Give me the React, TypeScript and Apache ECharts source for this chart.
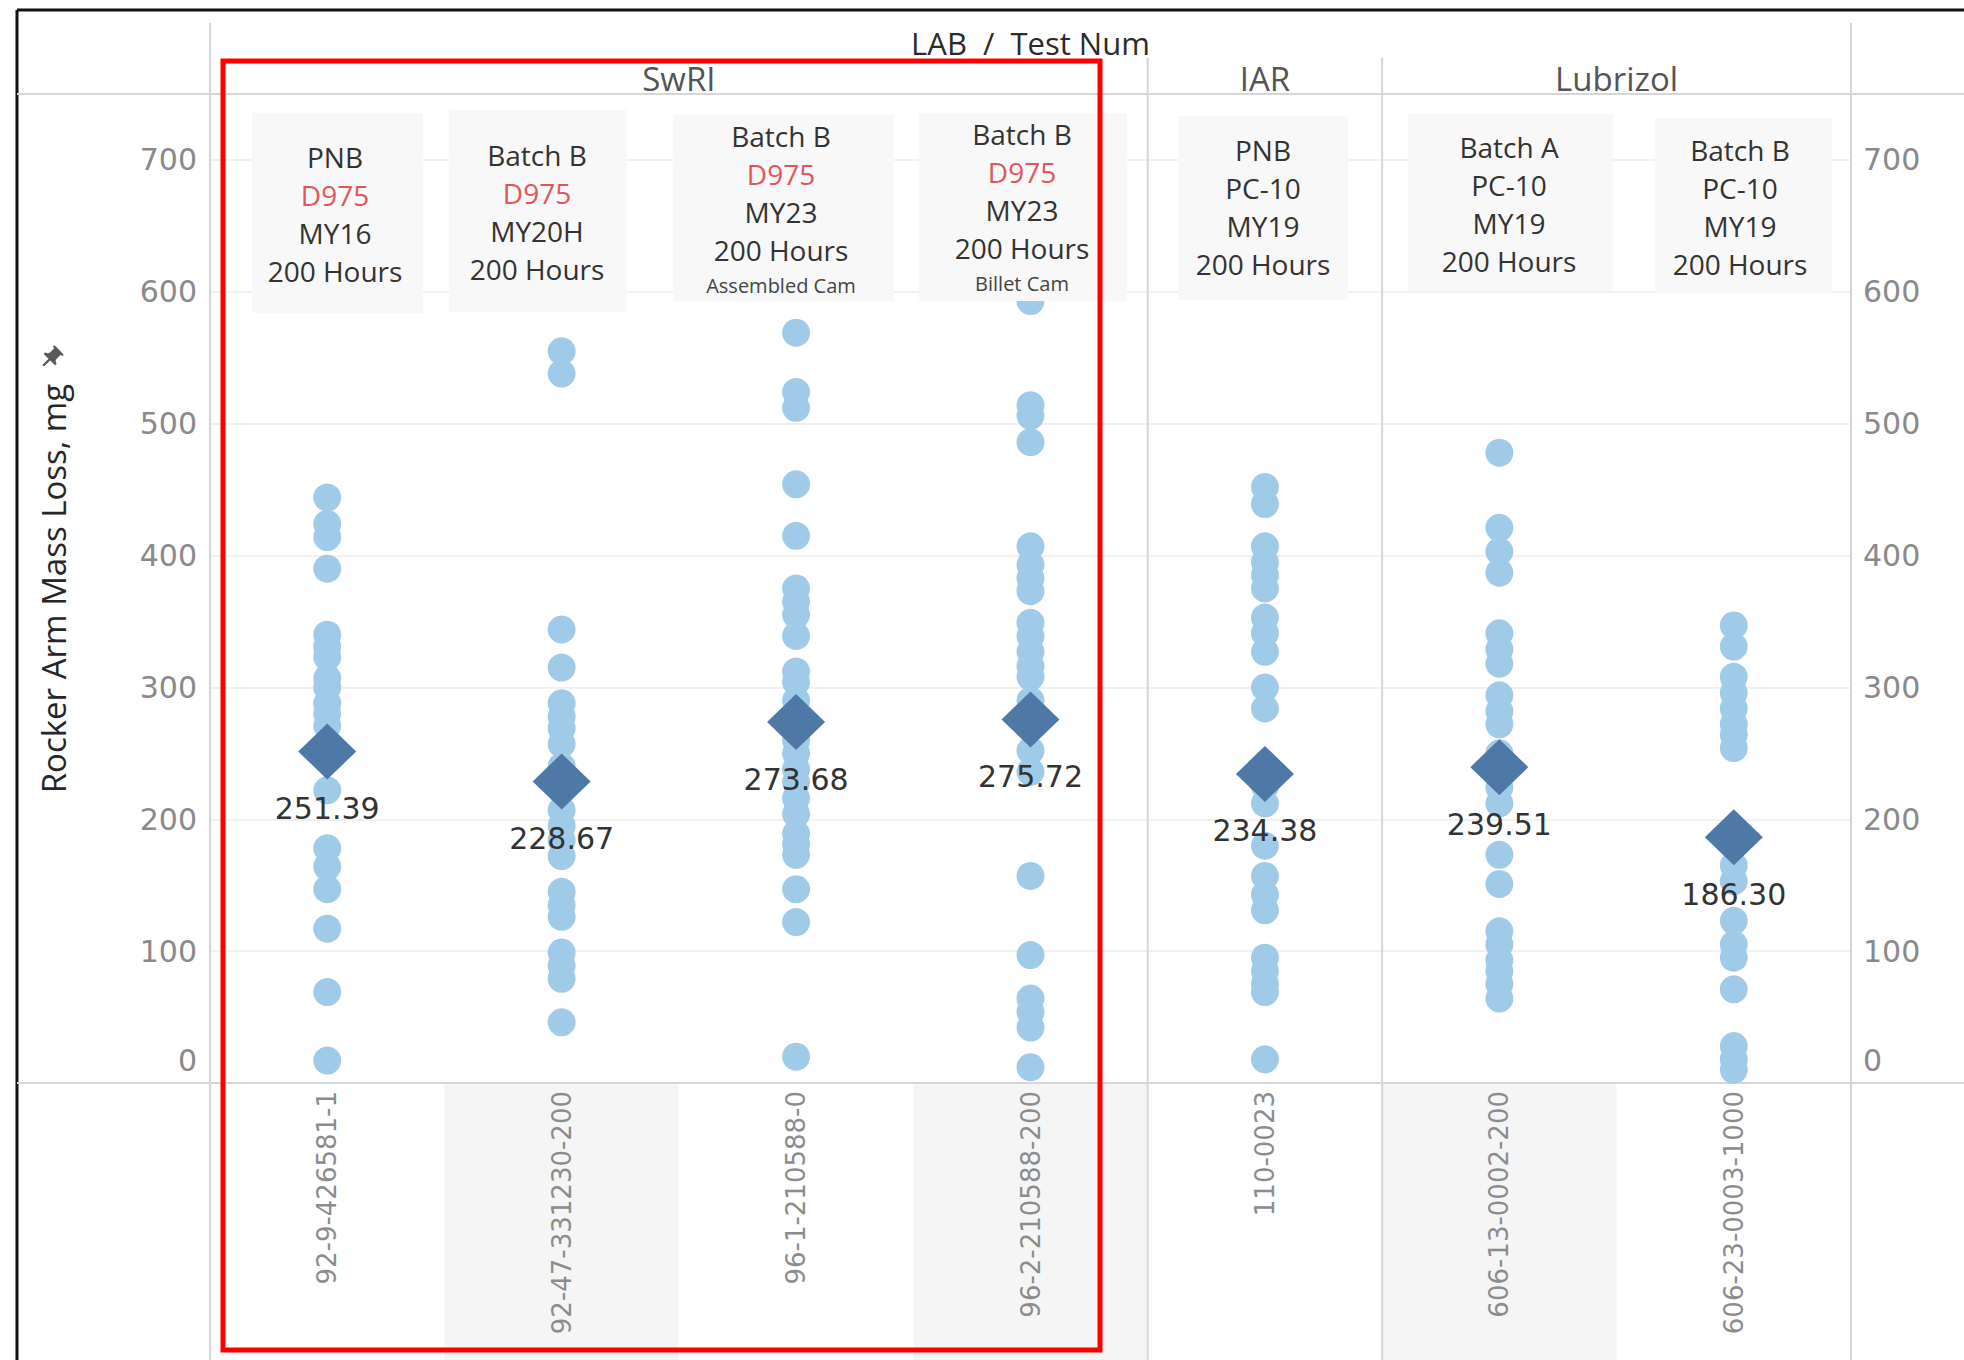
import React, { useEffect, useRef } from 'react';
import * as echarts from 'echarts';

// ---- data -------------------------------------------------------------
const testNums = [
  '92-9-426581-1',
  '92-47-331230-200',
  '96-1-210588-0',
  '96-2-210588-200',
  '110-0023',
  '606-13-0002-200',
  '606-23-0003-1000',
];
const labs = ['SwRI', 'SwRI', 'SwRI', 'SwRI', 'IAR', 'Lubrizol', 'Lubrizol'];

// average rocker arm mass loss per test (mg)
const avgLoss = [251.39, 228.67, 273.68, 275.72, 234.38, 239.51, 186.3];

// individual rocker arm mass loss readings (mg)
const loss_92_9 = [444, 424, 414, 390, 340, 331, 323, 307, 300, 288, 280, 271, 250, 222, 178, 164, 147, 117, 69, 17];
const loss_92_47 = [555, 538, 344, 315, 288, 278, 269, 257, 240, 228, 207, 195, 184, 172, 145, 135, 126, 99, 89, 79, 46];
const loss_96_1 = [569, 524, 512, 454, 415, 375, 365, 355, 339, 312, 304, 290, 260, 250, 238, 228, 216, 204, 189, 181, 173, 147, 122, 20];
const loss_96_2 = [593, 514, 506, 486, 407, 393, 383, 373, 349, 339, 327, 316, 308, 290, 252, 236, 157, 97, 64, 54, 42, 12];
const loss_110 = [452, 439, 407, 395, 385, 375, 353, 341, 327, 300, 284, 240, 225, 212, 180, 157, 143, 131, 95, 85, 75, 69, 18];
const loss_606_13 = [478, 421, 403, 387, 341, 329, 318, 294, 282, 272, 250, 240, 224, 212, 173, 151, 115, 105, 93, 85, 75, 64];
const loss_606_23 = [347, 331, 308, 296, 284, 272, 264, 254, 190, 180, 165, 153, 123, 105, 95, 71, 28, 18, 10];
const lossByTest = [loss_92_9, loss_92_47, loss_96_1, loss_96_2, loss_110, loss_606_13, loss_606_23];

// y axis
const yMin = 0;
const yMax = 750;
const yStep = 100;

// test descriptions shown in the caption boxes
const oilBatch = ['PNB', 'Batch B', 'Batch B', 'Batch B', 'PNB', 'Batch A', 'Batch B'];
const oilCode = ['D975', 'D975', 'D975', 'D975', 'PC-10', 'PC-10', 'PC-10'];
const modelYear = ['MY16', 'MY20H', 'MY23', 'MY23', 'MY19', 'MY19', 'MY19'];
const duration = ['200 Hours', '200 Hours', '200 Hours', '200 Hours', '200 Hours', '200 Hours', '200 Hours'];
const camNote = ['', '', 'Assembled Cam', 'Billet Cam', '', '', ''];
const highlightCode = 'D975';

// ---- layout -----------------------------------------------------------
const W = 1964;
const H = 1360;
const GRID = { left: 210, right: 113, top: 94, bottom: 277 };
const FRAME = { x: 17, y: 10 };

// caption boxes: rect + centre x + first text line y
const CAPTION_BOXES = [
  { x: 252, y: 113, w: 171, h: 200, cx: 335, ty: 157 },
  { x: 449, y: 110, w: 178, h: 202, cx: 537, ty: 155 },
  { x: 673, y: 115, w: 221, h: 186, cx: 781, ty: 136 },
  { x: 919, y: 113, w: 208, h: 188, cx: 1022, ty: 134 },
  { x: 1178, y: 116, w: 170, h: 184, cx: 1263, ty: 150 },
  { x: 1408, y: 114, w: 205, h: 177, cx: 1509, ty: 147 },
  { x: 1655, y: 118, w: 177, h: 175, cx: 1740, ty: 150 },
];
const LINE_GAP = 38;
const HIGHLIGHT_RECT = { x: 223, y: 61, w: 877, h: 1289 };

const PIN_PATH =
  'M16 9V4h1c.55 0 1-.45 1-1s-.45-1-1-1H7c-.55 0-1 .45-1 1s.45 1 1 1h1v5c0 1.66-1.34 3-3 3v2h5.97v7l1 1 1-1v-7H19v-2c-1.66 0-3-1.34-3-3z';
echarts.graphic.registerShape('pin', echarts.graphic.extendPath(PIN_PATH, {}) as any);

const SANS = '"Open Sans", "Noto Sans", sans-serif';
const NUM = '"DejaVu Sans", sans-serif';

function tickLabel(v: number) {
  return v === 0 ? '{z|0}' : String(v);
}

const tickRich = {
  z: { fontSize: 30, fontFamily: NUM, color: '#8a8a8a', padding: [0, 0, 46, 0] },
};

export default function App() {
  const ref = useRef<HTMLDivElement>(null);

  useEffect(() => {
    if (!ref.current) return;
    const chart = echarts.init(ref.current, undefined, { renderer: 'svg' });

    const dotData: [number, number][] = [];
    lossByTest.forEach((vals, i) => vals.forEach((v) => dotData.push([i, v])));

    const yAxisBase = {
      type: 'value' as const,
      min: yMin,
      max: yMax,
      interval: yStep,
      axisLine: { show: false },
      axisTick: { show: false },
    };

    chart.setOption({
      animation: false,
      backgroundColor: '#ffffff',
      grid: GRID,
      xAxis: {
        type: 'category',
        data: testNums,
        z: 5,
        axisLine: { show: false },
        axisTick: { show: false },
        splitLine: { show: false },
        axisLabel: {
          rotate: 90,
          margin: 8,
          fontSize: 26,
          fontFamily: NUM,
          color: '#8c8c8c',
          interval: 0,
        },
      },
      yAxis: [
        {
          ...yAxisBase,
          position: 'left',
          name: 'Rocker Arm Mass Loss, mg',
          nameLocation: 'middle',
          nameRotate: 90,
          nameGap: 140,
          nameTextStyle: { fontSize: 33, fontFamily: SANS, color: '#262626' },
          splitLine: { show: true, lineStyle: { color: '#ececec', width: 1.5 } },
          axisLabel: {
            margin: 13,
            fontSize: 30,
            fontFamily: NUM,
            color: '#8a8a8a',
            showMaxLabel: false,
            formatter: tickLabel,
            rich: tickRich,
          },
        },
        {
          ...yAxisBase,
          position: 'right',
          splitLine: { show: false },
          axisLabel: {
            margin: 12,
            fontSize: 30,
            fontFamily: NUM,
            color: '#8a8a8a',
            showMaxLabel: false,
            formatter: tickLabel,
            rich: tickRich,
          },
        },
      ],
      series: [
        {
          name: 'Mass Loss',
          type: 'scatter',
          data: dotData,
          symbol: 'circle',
          symbolSize: 28,
          itemStyle: { color: '#a0cbe8', opacity: 1 },
          z: 2,
        },
        {
          name: 'Average',
          type: 'scatter',
          data: avgLoss.map((v, i) => [i, v]),
          symbol: 'diamond',
          symbolSize: [58, 56],
          itemStyle: { color: '#4e79a7', opacity: 1 },
          z: 3,
          label: {
            show: true,
            position: 'bottom',
            distance: 14,
            formatter: (p: any) => Number(p.value[1]).toFixed(2),
            fontSize: 30,
            fontFamily: NUM,
            color: '#333333',
          },
        },
      ],
    });

    // structural lines, header labels and captions, placed from the axis scale
    const xPix = testNums.map((_, i) => chart.convertToPixel({ xAxisIndex: 0 }, i) as number);
    const colW = testNums.length > 1 ? xPix[1] - xPix[0] : W - GRID.left - GRID.right;
    const plotLeft = GRID.left;
    const plotRight = W - GRID.right;
    const plotTop = GRID.top;
    const plotBottom = H - GRID.bottom;

    const groups: { lab: string; start: number; end: number }[] = [];
    labs.forEach((lab, i) => {
      const last = groups[groups.length - 1];
      if (last && last.lab === lab) last.end = i;
      else groups.push({ lab, start: i, end: i });
    });

    const lineStyle = { stroke: '#d6d6d6', lineWidth: 2 };
    const elements: any[] = [];

    // alternating band under the axis for every second test
    testNums.forEach((_, i) => {
      if (i % 2 === 1) {
        elements.push({
          type: 'rect',
          z: -1,
          shape: { x: xPix[i] - colW / 2, y: plotBottom + 1, width: colW, height: H - plotBottom },
          style: { fill: '#f5f5f5' },
        });
      }
    });

    // frame
    elements.push({ type: 'line', z: 1, shape: { x1: FRAME.x, y1: FRAME.y, x2: W, y2: FRAME.y }, style: { stroke: '#111', lineWidth: 3 } });
    elements.push({ type: 'line', z: 1, shape: { x1: FRAME.x, y1: FRAME.y, x2: FRAME.x, y2: H }, style: { stroke: '#111', lineWidth: 3 } });

    // header divider, zero line, pane edges
    elements.push({ type: 'line', z: 1, shape: { x1: FRAME.x, y1: plotTop, x2: W, y2: plotTop }, style: lineStyle });
    elements.push({ type: 'line', z: 1, shape: { x1: FRAME.x, y1: plotBottom, x2: W, y2: plotBottom }, style: lineStyle });
    elements.push({ type: 'line', z: 1, shape: { x1: plotLeft, y1: 23, x2: plotLeft, y2: H }, style: lineStyle });
    elements.push({ type: 'line', z: 1, shape: { x1: plotRight, y1: 23, x2: plotRight, y2: H }, style: lineStyle });

    // lab separators and lab names
    groups.forEach((g, gi) => {
      const x0 = xPix[g.start] - colW / 2;
      const x1 = xPix[g.end] + colW / 2;
      if (gi > 0) {
        elements.push({ type: 'line', z: 1, shape: { x1: x0, y1: 58, x2: x0, y2: H }, style: lineStyle });
      }
      elements.push({
        type: 'text',
        z: 1,
        style: {
          text: g.lab,
          x: (x0 + x1) / 2,
          y: 78,
          align: 'center',
          verticalAlign: 'middle',
          fontSize: 33,
          fontFamily: SANS,
          fill: '#555555',
        },
      });
    });

    elements.push({
      type: 'text',
      z: 1,
      style: {
        text: 'LAB  /  Test Num',
        x: (plotLeft + plotRight) / 2,
        y: 43,
        align: 'center',
        verticalAlign: 'middle',
        fontSize: 31,
        fontFamily: SANS,
        fill: '#2b2b2b',
      },
    });

    // caption boxes
    CAPTION_BOXES.forEach((b, i) => {
      elements.push({
        type: 'rect',
        z: 20,
        shape: { x: b.x, y: b.y, width: b.w, height: b.h },
        style: { fill: '#f8f8f8' },
      });
      const lines = [oilBatch[i], oilCode[i], modelYear[i], duration[i]];
      lines.forEach((t, k) => {
        elements.push({
          type: 'text',
          z: 21,
          style: {
            text: t,
            x: b.cx,
            y: b.ty + k * LINE_GAP,
            align: 'center',
            verticalAlign: 'middle',
            fontSize: 28,
            fontFamily: SANS,
            fill: t === highlightCode ? '#e15759' : '#333333',
          },
        });
      });
      if (camNote[i]) {
        elements.push({
          type: 'text',
          z: 21,
          style: {
            text: camNote[i],
            x: b.cx,
            y: b.ty + 3 * LINE_GAP + 35,
            align: 'center',
            verticalAlign: 'middle',
            fontSize: 20,
            fontFamily: SANS,
            fill: '#444444',
          },
        });
      }
    });

    // highlight around the SwRI tests
    elements.push({
      type: 'rect',
      z: 30,
      shape: { x: HIGHLIGHT_RECT.x, y: HIGHLIGHT_RECT.y, width: HIGHLIGHT_RECT.w, height: HIGHLIGHT_RECT.h },
      style: { fill: 'none', stroke: '#ff0000', lineWidth: 5 },
    });

    // pinned-axis marker next to the axis title
    elements.push({
      type: 'pin',
      z: 5,
      x: 39,
      y: 346,
      originX: 12,
      originY: 12,
      rotation: -Math.PI / 4,
      scaleX: 1.15,
      scaleY: 1.15,
      style: { fill: '#5a5a5a' },
    });

    chart.setOption({ graphic: { elements } });

    return () => chart.dispose();
  }, []);

  return (
    <div
      ref={ref}
      style={{ position: 'fixed', left: 0, top: 0, width: W, height: H, background: '#fff' }}
    />
  );
}
